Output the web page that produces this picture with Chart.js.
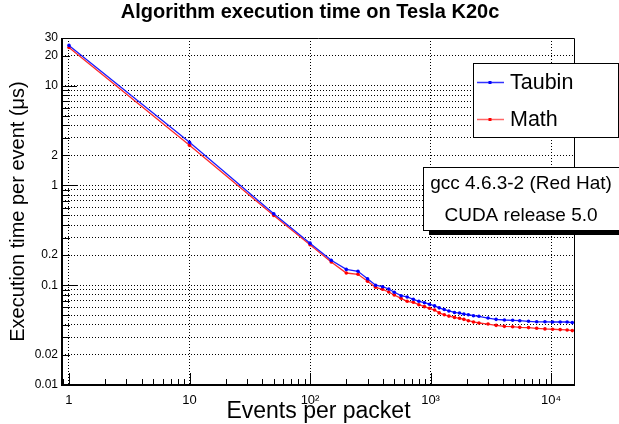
<!DOCTYPE html>
<html lang="en">
<head>
    <meta charset="UTF-8">
    <title>Algorithm execution time on Tesla K20c</title>
    <script src="https://cdn.jsdelivr.net/npm/chart.js@4.4.0/dist/chart.umd.min.js"></script>
    <style>
        html, body {
            margin: 0;
            padding: 0;
            background: #fff;
        }
        #wrap {
            width: 619px;
            height: 424px;
        }
    </style>
</head>
<body>
    <div id="wrap"><canvas id="chart" width="619" height="424"></canvas></div>

    <script>
        // Events per packet (x) and execution time per event in microseconds (y)
        const eventsPerPacket = [1, 10, 50, 100, 150, 200, 250, 300, 350, 400, 450, 500, 570, 640, 720, 800, 890, 980,
            1080, 1180, 1300, 1420, 1580, 1740, 1890, 2060, 2270, 2520, 3000, 3500, 4100, 4800, 5500, 6500, 7600,
            8900, 10300, 11900, 13600, 15000];
        const taubinTime = [25.3, 2.70, 0.52, 0.264, 0.178, 0.144, 0.138, 0.116, 0.100, 0.0966, 0.0916, 0.085, 0.0785,
            0.0762, 0.0722, 0.069, 0.0668, 0.0645, 0.062, 0.0593, 0.057, 0.0552, 0.0533, 0.0526, 0.0514, 0.0506,
            0.0495, 0.0488, 0.0469, 0.0455, 0.0448, 0.0445, 0.0441, 0.0435, 0.043, 0.043, 0.0428, 0.0428, 0.0428, 0.0422];
        const mathTime = [24.1, 2.52, 0.50, 0.255, 0.171, 0.1325, 0.1286, 0.1094, 0.0953, 0.091, 0.0855, 0.0798, 0.0739,
            0.069, 0.0674, 0.0638, 0.061, 0.0587, 0.0564, 0.0528, 0.0505, 0.049, 0.0476, 0.0466, 0.0455, 0.0441,
            0.0428, 0.0418, 0.0408, 0.0396, 0.0387, 0.0384, 0.0378, 0.0376, 0.037, 0.0365, 0.0362, 0.0359, 0.0356, 0.0351];

        const xTickLabels = { 1: '1', 10: '10', 100: '10²', 1000: '10³', 10000: '10⁴' };
        const yTickLabels = [0.01, 0.02, 0.1, 0.2, 1, 2, 10, 20, 30];
        const chartTitle = 'Algorithm execution time on Tesla K20c';
        const infoLines = ['gcc 4.6.3-2 (Red Hat)', 'CUDA release 5.0'];

        const FONT = "'Liberation Sans', Arial, Helvetica, sans-serif";
        Chart.defaults.font.family = FONT;
        Chart.defaults.color = '#000';

        function isDecade(v) {
            const l = Math.log10(v);
            return Math.abs(l - Math.round(l)) < 1e-6;
        }

        // 1..9 times every power of ten inside [min, max]
        function logTicks(scale) {
            const out = [];
            for (let e = -3; e <= 5; e++) {
                for (let m = 1; m <= 9; m++) {
                    const v = +(m * Math.pow(10, e)).toPrecision(3);
                    if (v >= scale.min * 0.9999 && v <= scale.max * 1.0001) out.push({ value: v });
                }
            }
            scale.ticks = out;
        }

        const frameAndTicks = {
            id: 'frameAndTicks',
            afterDraw(chart) {
                const { ctx, chartArea: a, scales: { x, y } } = chart;
                ctx.save();
                ctx.strokeStyle = '#000';
                ctx.lineWidth = 1;
                ctx.beginPath();
                ctx.moveTo(a.left, a.top + 0.5);
                ctx.lineTo(a.right - 0.5, a.top + 0.5);
                ctx.lineTo(a.right - 0.5, a.bottom);
                ctx.stroke();

                ctx.beginPath();
                x.ticks.forEach(t => {
                    const px = Math.round(x.getPixelForValue(t.value)) + 0.5;
                    const len = isDecade(t.value) ? 12 : 6;
                    ctx.moveTo(px, a.bottom);
                    ctx.lineTo(px, a.bottom - len);
                });
                y.ticks.forEach(t => {
                    const py = Math.round(y.getPixelForValue(t.value)) + 0.5;
                    const len = isDecade(t.value) ? 15 : 8;
                    ctx.moveTo(a.left, py);
                    ctx.lineTo(a.left + len, py);
                });
                ctx.stroke();

                ctx.lineWidth = 2;
                ctx.beginPath();
                ctx.moveTo(a.left, a.top);
                ctx.lineTo(a.left, a.bottom);
                ctx.lineTo(a.right, a.bottom);
                ctx.stroke();
                ctx.restore();
            }
        };

        const boxes = {
            id: 'boxes',
            afterDraw(chart) {
                const ctx = chart.ctx;
                ctx.save();

                // title, centred on the whole pad
                ctx.fillStyle = '#000';
                ctx.font = 'bold 20px ' + FONT;
                ctx.textAlign = 'center';
                ctx.textBaseline = 'middle';
                ctx.fillText(chartTitle, 310, 12);

                // legend
                ctx.fillStyle = '#fff';
                ctx.strokeStyle = '#000';
                ctx.lineWidth = 1;
                ctx.fillRect(473, 63, 146, 74);
                ctx.strokeRect(473.5, 63.5, 145, 74);
                ctx.font = '21.5px ' + FONT;
                ctx.textAlign = 'left';
                chart.data.datasets.forEach((ds, i) => {
                    const ly = 82.5 + i * 37;
                    ctx.strokeStyle = ds.legendLine;
                    ctx.lineWidth = 1.5;
                    ctx.beginPath();
                    ctx.moveTo(477, ly);
                    ctx.lineTo(504, ly);
                    ctx.stroke();
                    ctx.fillStyle = ds.pointBackgroundColor;
                    ctx.fillRect(488.5, ly - 1.5, 3, 3);
                    ctx.fillStyle = '#000';
                    ctx.fillText(ds.label, 510, ly + 1);
                });

                // info box with shadow
                ctx.fillStyle = '#000';
                ctx.fillRect(429, 230, 190, 5);
                ctx.fillStyle = '#fff';
                ctx.fillRect(423, 167, 196, 64);
                ctx.strokeStyle = '#000';
                ctx.lineWidth = 1;
                ctx.strokeRect(423.5, 167.5, 196, 63);
                ctx.fillStyle = '#000';
                ctx.font = '19px ' + FONT;
                ctx.textAlign = 'center';
                infoLines.forEach((s, i) => ctx.fillText(s, 521, 184 + i * 32));
                ctx.restore();
            }
        };

        new Chart(document.getElementById('chart'), {
            type: 'line',
            data: {
                datasets: [{
                    label: 'Taubin',
                    data: eventsPerPacket.map((v, i) => ({ x: v, y: taubinTime[i] })),
                    borderColor: '#1a1aff',
                    legendLine: '#3333ff',
                    borderWidth: 1.3,
                    pointRadius: 1.8,
                    pointBorderWidth: 0,
                    pointBackgroundColor: '#0000ff',
                    tension: 0
                }, {
                    label: 'Math',
                    data: eventsPerPacket.map((v, i) => ({ x: v, y: mathTime[i] })),
                    borderColor: '#ff2a2a',
                    legendLine: '#ff6666',
                    borderWidth: 1.3,
                    pointRadius: 1.8,
                    pointBorderWidth: 0,
                    pointBackgroundColor: '#ff0000',
                    tension: 0
                }]
            },
            options: {
                responsive: false,
                animation: false,
                layout: { padding: { top: 38, right: 44, bottom: 0, left: 0 } },
                plugins: {
                    legend: { display: false },
                    tooltip: { enabled: false },
                    title: { display: false }
                },
                scales: {
                    x: {
                        type: 'logarithmic',
                        min: 0.875,
                        max: 15800,
                        bounds: 'data',
                        afterBuildTicks: logTicks,
                        afterFit: s => { s.height = 39; },
                        grid: {
                            drawTicks: false,
                            color: c => c.tick && isDecade(c.tick.value) ? '#000' : 'rgba(0,0,0,0)',
                            lineWidth: 1
                        },
                        border: { display: false, dash: [1, 2] },
                        ticks: {
                            autoSkip: false,
                            maxRotation: 0,
                            padding: 8,
                            font: { size: 13 },
                            callback: v => xTickLabels[v] || ''
                        },
                        title: {
                            display: true,
                            text: 'Events per packet',
                            font: { size: 23, lineHeight: 1.05 },
                            padding: { top: 0, bottom: 0 }
                        }
                    },
                    y: {
                        type: 'logarithmic',
                        min: 0.01,
                        max: 30,
                        bounds: 'data',
                        afterBuildTicks: logTicks,
                        afterFit: s => { s.width = 62; },
                        grid: {
                            drawTicks: false,
                            color: '#000',
                            lineWidth: 1
                        },
                        border: { display: false, dash: [1, 2] },
                        ticks: {
                            autoSkip: false,
                            padding: 4,
                            font: { size: 12 },
                            callback: v => yTickLabels.includes(v) ? String(v) : ''
                        },
                        title: {
                            display: true,
                            text: 'Execution time per event (μs)',
                            font: { size: 20 },
                            padding: { top: 6, bottom: 0 }
                        }
                    }
                }
            },
            plugins: [frameAndTicks, boxes]
        });
    </script>
</body>
</html>
